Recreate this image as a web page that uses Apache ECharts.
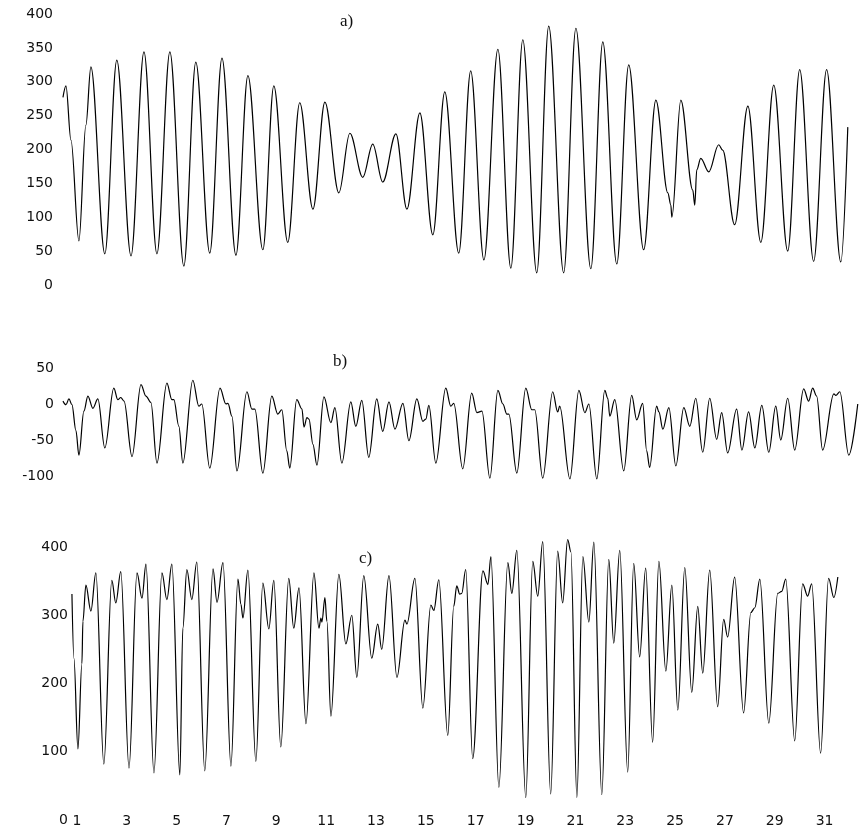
<!DOCTYPE html>
<html>
<head>
<meta charset="utf-8">
<script src="https://cdn.jsdelivr.net/npm/echarts@6/dist/echarts.min.js"></script>
<style>
  html, body { margin: 0; padding: 0; background: #fff; }
  #chart { width: 866px; height: 831px; }
</style>
</head>
<body>
<div id="chart"></div>
<script>
  // [day, value], turning points only
  const panelA = [
    [0.44, 277], [0.56, 294], [0.76, 214], [1.08, 65], [1.36, 236], [1.56, 322], [2.12, 46], [2.60, 332],
    [3.17, 43], [3.69, 344], [4.21, 46], [4.73, 344], [5.29, 28], [5.77, 329], [6.33, 47], [6.82, 335],
    [7.38, 44], [7.86, 309], [8.46, 52], [8.90, 294], [9.46, 63], [9.94, 269], [10.47, 112], [10.95, 270],
    [11.51, 136], [11.95, 224], [12.47, 159], [12.87, 208], [13.27, 152], [13.80, 223], [14.24, 112], [14.76, 254],
    [15.28, 74], [15.76, 285], [16.32, 47], [16.80, 316], [17.33, 37], [17.89, 348], [18.41, 25], [18.89, 362],
    [19.45, 18], [19.93, 382], [20.53, 18], [21.02, 379], [21.62, 24], [22.10, 359], [22.66, 31], [23.14, 325],
    [23.74, 52], [24.23, 273], [24.71, 136], [24.83, 118], [24.87, 100], [25.23, 273], [25.71, 140], [25.79, 118],
    [25.87, 170], [26.03, 187], [26.35, 167], [26.75, 207], [26.91, 199], [27.39, 89], [27.92, 264], [28.44, 63],
    [28.96, 295], [29.52, 50], [30.00, 318], [30.56, 35], [31.08, 318], [31.65, 34], [31.93, 233]
  ];
  const panelB = [
    [0.44, 4], [0.56, -1], [0.68, 7], [0.80, -1], [0.96, -37], [1.08, -71], [1.28, -10], [1.44, 11],
    [1.64, -6], [1.84, 7], [2.12, -61], [2.48, 22], [2.64, 6], [2.76, 9], [2.89, 4], [3.21, -73],
    [3.57, 27], [3.77, 11], [3.97, 2], [4.21, -82], [4.61, 29], [4.81, 6], [4.89, 6], [5.09, -31],
    [5.25, -82], [5.65, 33], [5.89, -3], [6.01, 0], [6.33, -89], [6.74, 22], [6.98, 0], [7.06, 1],
    [7.22, -17], [7.42, -93], [7.82, 17], [8.02, -7], [8.14, -7], [8.46, -96], [8.82, 11], [9.06, -14],
    [9.22, -8], [9.42, -65], [9.54, -89], [9.82, 6], [10.03, -7], [10.11, -32], [10.23, -19], [10.31, -21],
    [10.47, -56], [10.63, -85], [10.91, 10], [11.19, -26], [11.35, -5], [11.63, -82], [11.99, 3], [12.19, -31],
    [12.43, 5], [12.71, -74], [13.03, 7], [13.27, -38], [13.52, 3], [13.76, -35], [14.08, 1], [14.32, -51],
    [14.64, 7], [14.88, -24], [15.00, -21], [15.12, -2], [15.40, -82], [15.80, 22], [16.00, -3], [16.12, 1],
    [16.48, -90], [16.84, 15], [17.05, -12], [17.25, -10], [17.57, -103], [17.89, 19], [18.09, 0], [18.25, -14],
    [18.33, -14], [18.65, -96], [19.01, 22], [19.25, -8], [19.37, -8], [19.69, -103], [20.09, 17], [20.29, -11],
    [20.37, -3], [20.78, -104], [21.14, 19], [21.38, -12], [21.54, 0], [21.86, -104], [22.18, 19], [22.30, 8],
    [22.38, -17], [22.58, 6], [22.94, -93], [23.26, 12], [23.46, -22], [23.70, 1], [23.86, -65], [23.98, -88],
    [24.26, -3], [24.35, -11], [24.51, -35], [24.75, -5], [25.03, -86], [25.35, -5], [25.59, -31], [25.83, 8],
    [26.11, -67], [26.39, 8], [26.67, -49], [26.87, -12], [27.11, -68], [27.47, -7], [27.68, -64], [27.95, -11],
    [28.20, -61], [28.48, -2], [28.76, -67], [29.04, -3], [29.24, -50], [29.52, 8], [29.80, -64], [30.16, 21],
    [30.36, 4], [30.52, 22], [30.68, 11], [30.92, -64], [31.37, 14], [31.45, 12], [31.61, 17], [31.97, -71],
    [32.33, 0]
  ];
  const panelC = [
    [0.80, 331], [0.88, 237], [1.04, 104], [1.20, 229], [1.24, 291], [1.36, 344], [1.56, 306], [1.76, 362],
    [2.08, 82], [2.40, 351], [2.56, 318], [2.76, 364], [3.09, 76], [3.41, 362], [3.61, 325], [3.77, 375],
    [4.09, 69], [4.41, 362], [4.61, 323], [4.81, 375], [5.13, 66], [5.25, 281], [5.41, 367], [5.61, 323],
    [5.81, 378], [6.13, 72], [6.46, 368], [6.62, 319], [6.86, 377], [7.18, 79], [7.46, 353], [7.58, 316],
    [7.66, 296], [7.86, 366], [8.18, 86], [8.46, 347], [8.70, 280], [8.90, 351], [9.18, 107], [9.50, 354],
    [9.70, 281], [9.91, 340], [10.19, 141], [10.51, 362], [10.71, 281], [10.79, 296], [10.83, 290], [10.95, 326],
    [11.03, 291], [11.19, 152], [11.51, 360], [11.79, 258], [12.03, 300], [12.23, 209], [12.51, 358], [12.83, 237],
    [13.07, 287], [13.23, 250], [13.52, 358], [13.84, 209], [14.16, 293], [14.24, 287], [14.56, 354], [14.88, 164],
    [15.20, 315], [15.32, 307], [15.52, 352], [15.88, 124], [16.12, 313], [16.24, 343], [16.36, 331], [16.44, 332],
    [16.60, 367], [16.88, 90], [17.29, 365], [17.49, 345], [17.61, 386], [17.93, 48], [18.29, 377], [18.45, 332],
    [18.65, 395], [19.01, 33], [19.29, 379], [19.49, 328], [19.69, 408], [20.01, 38], [20.29, 394], [20.49, 318],
    [20.69, 411], [20.82, 393], [21.06, 33], [21.30, 386], [21.54, 290], [21.74, 407], [22.06, 37], [22.34, 382],
    [22.54, 259], [22.78, 395], [23.10, 70], [23.34, 376], [23.58, 239], [23.82, 369], [24.10, 114], [24.35, 379],
    [24.63, 218], [24.87, 344], [25.11, 161], [25.39, 370], [25.67, 187], [25.91, 313], [26.11, 215], [26.39, 366],
    [26.71, 166], [26.95, 294], [27.11, 268], [27.39, 356], [27.75, 157], [28.04, 304], [28.20, 311], [28.40, 353],
    [28.76, 142], [29.12, 332], [29.28, 335], [29.44, 353], [29.80, 116], [30.12, 346], [30.32, 328], [30.48, 346],
    [30.84, 98], [31.16, 354], [31.37, 326], [31.53, 356]
  ];
  const dayLabels = [1, 3, 5, 7, 9, 11, 13, 15, 17, 19, 21, 23, 25, 27, 29, 31];
  const panelTitles = ['a)', 'b)', 'c)'];

  const chart = echarts.init(document.getElementById('chart'));

  const labelFont = { color: '#111', fontSize: 14, fontFamily: 'DejaVu Sans' };
  const titleFont = { color: '#111', fontSize: 17, fontWeight: 'normal', fontFamily: 'Liberation Serif' };

  function yAxis(idx, min, max, interval, margin) {
    return {
      type: 'value', gridIndex: idx, min: min, max: max, interval: interval,
      axisLine: { show: false }, axisTick: { show: false }, splitLine: { show: false },
      axisLabel: Object.assign({ margin: margin }, labelFont)
    };
  }

  function xAxis(idx, showLabels) {
    return {
      type: 'value', gridIndex: idx, min: 0, max: 32.5, interval: 1,
      show: showLabels,
      axisLine: { show: false }, axisTick: { show: false }, splitLine: { show: false },
      axisLabel: Object.assign({
        show: showLabels,
        margin: -6,
        showMinLabel: false,
        showMaxLabel: false,
        formatter: function (v) { return dayLabels.indexOf(v) >= 0 ? String(v) : ''; }
      }, labelFont)
    };
  }

  function lineSeries(idx, data) {
    return {
      type: 'line', xAxisIndex: idx, yAxisIndex: idx, data: data,
      symbol: 'none', smooth: 0.35, smoothMonotone: 'x', clip: false,
      lineStyle: { color: '#000', width: 1.2 },
      silent: true, animation: false
    };
  }

  const option = {
    backgroundColor: '#fff',
    animation: false,
    title: [
      { text: panelTitles[0], left: 340, top: 13, padding: 0, textStyle: titleFont },
      { text: panelTitles[1], left: 333, top: 353, padding: 0, textStyle: titleFont },
      { text: panelTitles[2], left: 359, top: 550, padding: 0, textStyle: titleFont }
    ],
    grid: [
      { left: 52, right: 4, top: 14, height: 271 },
      { left: 52, right: 4, top: 368, height: 108 },
      { left: 52, right: 4, top: 547, height: 273 }
    ],
    xAxis: [xAxis(0, false), xAxis(1, false), xAxis(2, true)],
    yAxis: [
      yAxis(0, 0, 400, 50, -1),
      yAxis(1, -100, 50, 50, -2),
      yAxis(2, 0, 400, 100, -16)
    ],
    series: [lineSeries(0, panelA), lineSeries(1, panelB), lineSeries(2, panelC)]
  };

  chart.setOption(option);
</script>
</body>
</html>
